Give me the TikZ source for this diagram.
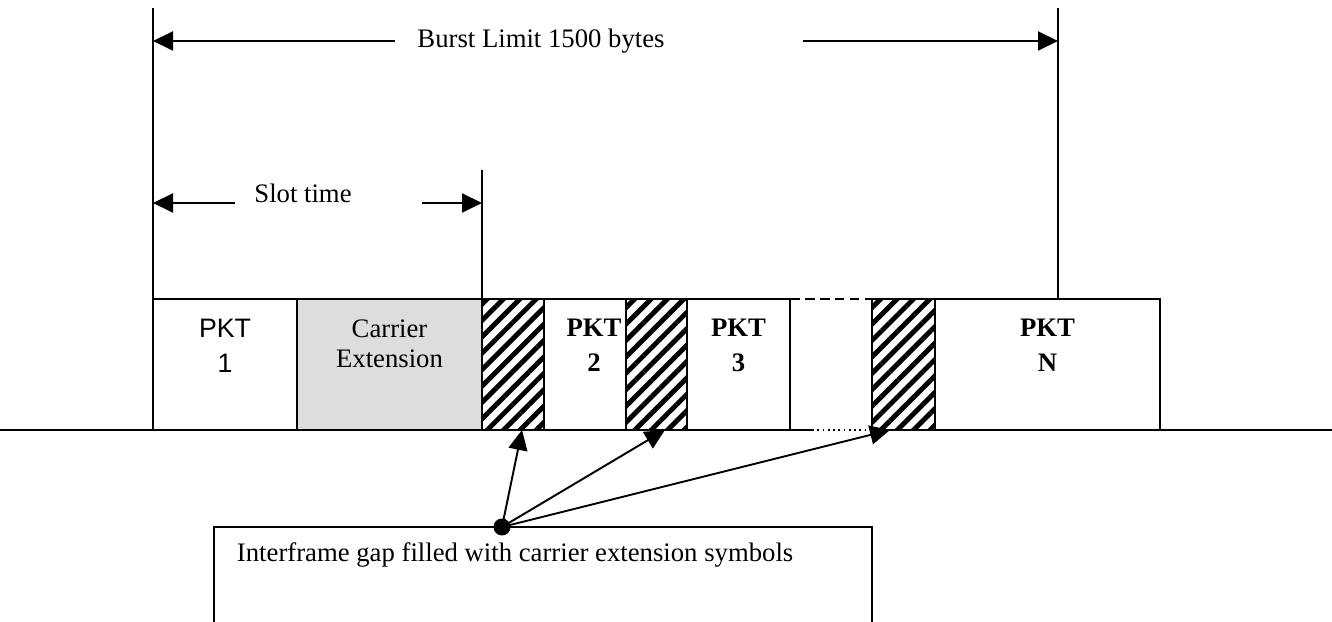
\documentclass[tikz,border=0pt]{standalone}
\usepackage{fontspec}
\setmainfont{Liberation Serif}
\setsansfont{Liberation Sans}
\usepackage{tikz}
\usetikzlibrary{calc, positioning, arrows.meta, patterns.meta}

\definecolor{ceGray}{RGB}{221,221,221}
\tikzset{
    pktbox/.style={draw, anchor=south west, minimum height=2.62cm, inner sep=0pt, outer sep=0pt},
    hatch/.style={pktbox, pattern={Lines[angle=45, distance=6.6pt, line width=2.8pt]}},
    lbl/.style={anchor=north, align=center, inner sep=0pt, font=\fontsize{15.2}{20}\selectfont},
    lblsans/.style={lbl, font=\fontsize{15.2}{20}\selectfont\sffamily},
    lblbold/.style={lbl, font=\fontsize{15.2}{20}\selectfont\bfseries}
}

\begin{document}
\begin{tikzpicture}[>={Triangle[length=0.4cm, width=0.38cm]}, line width=1.1pt,
    font=\fontsize{15.2}{20}\selectfont]
    % 0. Khung trang
    \useasboundingbox (0,0) rectangle (26.64,12.44);
    \clip (0,0) rectangle (26.64,12.44);

    % 1. Cac o tren duong truyen
    \node[pktbox, minimum width=2.88cm] (p1) at (3.06,3.84) {};
    \node[pktbox, fill=ceGray, minimum width=3.7cm, right=0pt of p1] (ce) {};
    \node[hatch, minimum width=1.24cm, right=0pt of ce] (h1) {};
    \node[pktbox, minimum width=1.64cm, right=0pt of h1] (p2) {};
    \node[hatch, minimum width=1.22cm, right=0pt of p2] (h2) {};
    \node[pktbox, minimum width=2.06cm, right=0pt of h2] (p3) {};
    \node[pktbox, draw=none, minimum width=1.64cm, right=0pt of p3] (gap) {};
    \node[hatch, minimum width=1.26cm, right=0pt of gap] (h3) {};
    \node[pktbox, minimum width=4.5cm, right=0pt of h3] (pN) {};

    % 2. Nhan trong cac o
    \node[lblsans] (p1t) at ([yshift=-0.38cm]p1.north) {PKT\\1};
    \node[lbl, font=\fontsize{15.2}{17}\selectfont] (cet) at ([yshift=-0.4cm]ce.north) {Carrier\\Extension};
    \node[lblbold] (p2t) at ([xshift=0.18cm, yshift=-0.38cm]p2.north) {PKT\\2};
    \node[lblbold] (p3t) at ([yshift=-0.38cm]p3.north) {PKT\\3};
    \node[lblbold] (pNt) at ([yshift=-0.38cm]pN.north) {PKT\\N};

    % 3. Duong truyen va khoang trong
    \coordinate (axl) at (0,3.84);
    \coordinate (axr) at (26.64,3.84);
    \draw[line width=1.5pt] (axl) -- ([xshift=0.44cm]gap.south west);
    \draw[dotted, line width=1pt] ([xshift=0.44cm]gap.south west) -- (gap.south east);
    \draw[line width=1.5pt] (pN.south east) -- (axr);
    \draw[dash pattern=on 5.5pt off 3pt] (gap.north west) -- (gap.north east);

    % 4. Cac vach doc
    \coordinate (ltop) at (3.06,12.28);
    \coordinate (rtop) at (21.16,12.28);
    \coordinate (stop) at (9.64,9.04);
    \draw (ltop) -- (p1.north west);
    \draw (rtop) -- (rtop |- pN.north);
    \draw (stop) -- (h1.north west);

    % 5. Burst Limit va Slot time
    \node[inner sep=0pt] (burst) at (10.82,11.62) {Burst Limit 1500 bytes};
    \coordinate (bl) at (7.9,11.62);
    \coordinate (br) at (16.06,11.62);
    \draw[->] (bl) -- (bl -| ltop);
    \draw[->] (br) -- (br -| rtop);
    \node[inner sep=0pt] (slottxt) at (6.06,8.58) {Slot time};
    \coordinate (sl) at (4.7,8.38);
    \coordinate (sr) at (8.44,8.38);
    \draw[->] (sl) -- (sl -| ltop);
    \draw[->] (sr) -- (sr -| stop);

    % 6. Chu thich khoang cach khung
    \node[draw, anchor=north west, minimum width=13.16cm, minimum height=2.6cm,
        inner sep=0pt, outer sep=0pt] (gapbox) at (4.28,1.9) {};
    \node[anchor=west, inner sep=0pt] (gaptxt) at (4.72,1.34)
        {Interframe gap filled with carrier extension symbols};
    \coordinate (hub) at (10.04,1.9);
    \draw[->] (hub) -- ([xshift=0.18cm]h1.south);
    \draw[->] (hub) -- ([xshift=0.17cm]h2.south);
    \draw[->] (hub) -- ([xshift=-0.27cm]h3.south);
    \fill (hub) circle (0.17);
\end{tikzpicture}
\end{document}
